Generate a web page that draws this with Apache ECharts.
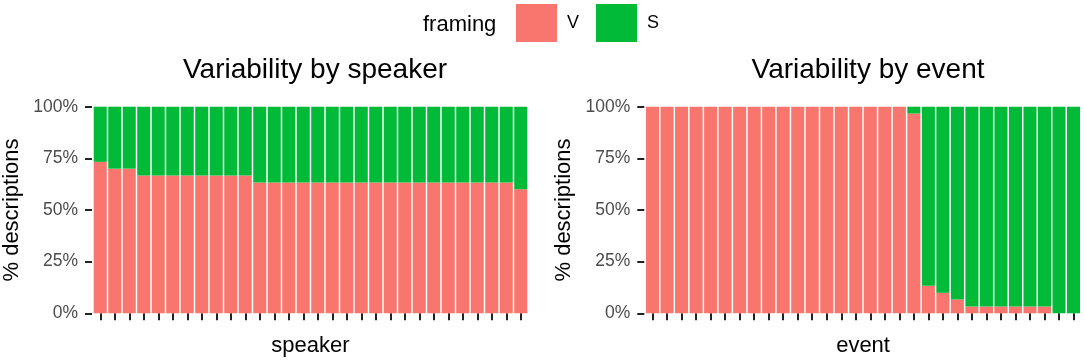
<!DOCTYPE html>
<html><head><meta charset="utf-8">
<script src="https://cdn.jsdelivr.net/npm/echarts@6/dist/echarts.min.js"></script>
<style>html,body{margin:0;padding:0;background:#fff}#c{width:1084px;height:363px}</style>
</head><body><div id="c"></div>
<script>
const speakerCategories = ['sp01','sp02','sp03','sp04','sp05','sp06','sp07','sp08','sp09','sp10','sp11','sp12','sp13','sp14','sp15','sp16','sp17','sp18','sp19','sp20','sp21','sp22','sp23','sp24','sp25','sp26','sp27','sp28','sp29','sp30'];
const eventCategories = ['ev01','ev02','ev03','ev04','ev05','ev06','ev07','ev08','ev09','ev10','ev11','ev12','ev13','ev14','ev15','ev16','ev17','ev18','ev19','ev20','ev21','ev22','ev23','ev24','ev25','ev26','ev27','ev28','ev29','ev30'];
const speakerV = [73.3,70,70,66.7,66.7,66.7,66.7,66.7,66.7,66.7,66.7,63.3,63.3,63.3,63.3,63.3,63.3,63.3,63.3,63.3,63.3,63.3,63.3,63.3,63.3,63.3,63.3,63.3,63.3,60];
const speakerS = [26.7,30,30,33.3,33.3,33.3,33.3,33.3,33.3,33.3,33.3,36.7,36.7,36.7,36.7,36.7,36.7,36.7,36.7,36.7,36.7,36.7,36.7,36.7,36.7,36.7,36.7,36.7,36.7,40];
const eventV = [100,100,100,100,100,100,100,100,100,100,100,100,100,100,100,100,100,100,96.7,13.3,10,6.7,3.3,3.3,3.3,3.3,3.3,3.3,0,0];
const eventS = [0,0,0,0,0,0,0,0,0,0,0,0,0,0,0,0,0,0,3.3,86.7,90,93.3,96.7,96.7,96.7,96.7,96.7,96.7,100,100];
const yTicks = [0,25,50,75,100];
const titles = ['Variability by speaker','Variability by event'];
const xNames = ['speaker','event'];
const yName = '% descriptions';
const legendTitle = 'framing';

const FONT = 'Liberation Sans, Arial, sans-serif';
const RED = '#F8766D', GREEN = '#00BA38';
const chart = echarts.init(document.getElementById('c'));
const grids = [
  {left: 92, top: 106.7, width: 436, height: 206.6},
  {left: 645.3, top: 106.7, width: 435.5, height: 206.6}
];
function xAx(i, cats){
  return {type:'category', gridIndex:i, data:cats, offset:10,
    axisLine:{show:false}, axisLabel:{show:false, interval:0},
    axisTick:{show:true, interval:0, alignWithLabel:true, length:7, lineStyle:{color:'#222', width:2}},
    name:xNames[i], nameLocation:'middle', nameGap:12,
    nameTextStyle:{fontFamily:FONT, fontSize:22, color:'#000', verticalAlign:'top'}};
}
function yAx(i){
  return {type:'value', gridIndex:i, min:yTicks[0], max:yTicks[yTicks.length-1], interval:25, offset:1,
    axisLine:{show:false}, splitLine:{show:false},
    axisTick:{show:true, length:7, lineStyle:{color:'#222', width:2}},
    axisLabel:{formatter:'{value}%', fontFamily:FONT, fontSize:17.5, color:'#4D4D4D', margin:14},
    name:yName, nameLocation:'middle', nameGap:69,
    nameTextStyle:{fontFamily:FONT, fontSize:22, color:'#000'}};
}
function bar(name, i, data, color, stack){
  return {name, type:'bar', xAxisIndex:i, yAxisIndex:i, stack, data,
    barCategoryGap:'10%', itemStyle:{color}, silent:true, animation:false};
}
chart.setOption({
  animation:false,
  backgroundColor:'#fff',
  title: titles.map((t,i)=>({text:t, left: grids[i].left + grids[i].width/2, textAlign:'center', top:51,
    textStyle:{fontFamily:FONT, fontSize:28, fontWeight:'normal', color:'#000'}})),
  legend:{data:['V','S'], left:516, top:4, padding:0, itemWidth:41, itemHeight:38, itemGap:17, icon:'rect',
    textStyle:{fontFamily:FONT, fontSize:18, color:'#000', padding:[4,0,0,5]}},
  graphic:[{type:'text', left:423, top:14, style:{text:legendTitle, font:'22px '+FONT, fill:'#000'}}],
  grid: grids,
  xAxis:[xAx(0, speakerCategories), xAx(1, eventCategories)],
  yAxis:[yAx(0), yAx(1)],
  series:[
    bar('V',0,speakerV,RED,'a'), bar('S',0,speakerS,GREEN,'a'),
    bar('V',1,eventV,RED,'b'), bar('S',1,eventS,GREEN,'b')
  ]
});
</script></body></html>
